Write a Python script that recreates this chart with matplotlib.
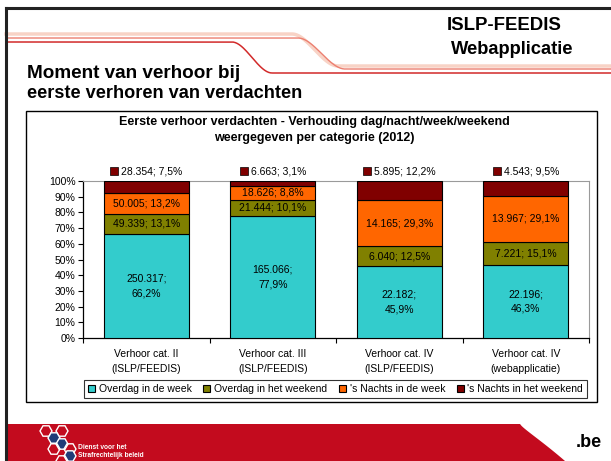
import numpy as np
import matplotlib
matplotlib.use('Agg')
import matplotlib.pyplot as plt
from matplotlib.patches import Rectangle, Polygon, RegularPolygon
from matplotlib.offsetbox import DrawingArea, TextArea, HPacker, AnnotationBbox

plt.rcParams['font.family'] = ['Liberation Sans', 'DejaVu Sans']

# Gegevens (2012)
categorieen = ['Verhoor cat. II\n(ISLP/FEEDIS)', 'Verhoor cat. III\n(ISLP/FEEDIS)',
               'Verhoor cat. IV\n(ISLP/FEEDIS)', 'Verhoor cat. IV\n(webapplicatie)']
overdag_week = [250317, 165066, 22182, 22196]
overdag_weekend = [49339, 21444, 6040, 7221]
nachts_week = [50005, 18626, 14165, 13967]
nachts_weekend = [28354, 6663, 5895, 4543]
reeksen = ['Overdag in de week', 'Overdag in het weekend', "'s Nachts in de week", "'s Nachts in het weekend"]
kleuren = ['#33CCCC', '#808000', '#FF6600', '#800000']
y_ticks = [0, 10, 20, 30, 40, 50, 60, 70, 80, 90, 100]

W, H = 611, 461
FS = 7.5


def getal(v):
    return f'{v:,}'.replace(',', '.')


def procent(p):
    return f'{p * 100:.1f}'.replace('.', ',') + '%'


fig = plt.figure(figsize=(W / 100, H / 100), dpi=100)
fig.patch.set_facecolor('white')

# achtergrond van de slide in pixelcoordinaten
bg = fig.add_axes([0, 0, 1, 1], zorder=0)
bg.set_xlim(0, W)
bg.set_ylim(H, 0)
bg.axis('off')

# decoratieve lijnen bovenaan
def stap(x, y0, y1, xa, xb):
    t = np.clip((x - xa) / (xb - xa), 0, 1)
    s = t * t * (3 - 2 * t)
    return y0 + (y1 - y0) * s

xs = np.linspace(6, W, 600)
bg.plot(xs, stap(xs, 34, 66, 292, 338), color='#F8D3C6', lw=2.5, zorder=1)
bg.plot(xs, stap(xs, 38, 69, 298, 345), color='#EC7F70', lw=1.0, zorder=1)
bg.plot(xs, stap(xs, 42, 73, 232, 272), color='#D22A2A', lw=1.1, zorder=1)

# rode voetband
px = np.linspace(0, 1, 30)
rand_x = 520 + 45 * px
rand_y = 424 + 37 * (px ** 0.8) * (1 - 0.25 * (1 - px))
voet = [(6, 424)] + list(zip(rand_x, rand_y)) + [(565, H), (6, H)]
bg.add_patch(Polygon(voet, closed=True, facecolor='#C30B1E', edgecolor='none', zorder=1))

# logo
for (cx, cy, vol) in [(46, 431, False), (62, 431, False), (54, 438, True), (62, 444, True),
                      (54, 449, False), (70, 449, False), (70, 456, True), (62, 461, False)]:
    bg.add_patch(RegularPolygon((cx, cy), 6, radius=6, orientation=np.pi / 6,
                                facecolor='#1F3C78' if vol else 'none',
                                edgecolor='white', lw=1.0, zorder=2))
bg.text(78, 447, 'Dienst voor het', color='white', fontsize=4.8, fontweight='bold', va='center')
bg.text(78, 455, 'Strafrechtelijk beleid', color='white', fontsize=4.8, fontweight='bold', va='center')
bg.text(589, 442, '.be', color='black', fontsize=13, fontweight='bold', ha='center', va='center')

# slide rand
bg.plot([6, 6], [8, H], color='#222222', lw=2.2, zorder=3)
bg.plot([6, W], [8, 8], color='#222222', lw=2.2, zorder=3)

# koppen
bg.text(447, 26, 'ISLP-FEEDIS', fontsize=13.4, fontweight='bold', va='center', ha='left')
bg.text(451, 49, 'Webapplicatie', fontsize=13.2, fontweight='bold', va='center', ha='left')
bg.text(27, 74, 'Moment van verhoor bij', fontsize=13.6, fontweight='bold', va='center')
bg.text(27, 93, 'eerste verhoren van verdachten', fontsize=13.1, fontweight='bold', va='center')

# kader van de grafiek
bg.add_patch(Rectangle((26, 111), 571, 291, facecolor='white', edgecolor='black', lw=1.0, zorder=2))
bg.text(314, 122, 'Eerste verhoor verdachten - Verhouding dag/nacht/week/weekend',
        fontsize=9, fontweight='bold', ha='center', va='center', zorder=3)
bg.text(314, 138, 'weergegeven per categorie (2012)',
        fontsize=9, fontweight='bold', ha='center', va='center', zorder=3)

# grafiek
ax = fig.add_axes([83 / W, (H - 338) / H, (589 - 83) / W, (338 - 181) / H], zorder=5)
ax.patch.set_alpha(0)

data = np.array([overdag_week, overdag_weekend, nachts_week, nachts_weekend], dtype=float)
totalen = data.sum(axis=0)
aandelen = data / totalen
x = np.arange(len(categorieen))
breedte = 0.672
onder = np.zeros(len(categorieen))
for i in range(4):
    ax.bar(x, aandelen[i], breedte, bottom=onder, color=kleuren[i], edgecolor='black',
           linewidth=0.8, label=reeksen[i], zorder=3)
    for j in range(len(x)):
        midden = onder[j] + aandelen[i][j] / 2
        if i == 0:
            ax.text(x[j], midden, f'{getal(int(data[i][j]))};\n{procent(aandelen[i][j])}',
                    ha='center', va='center', fontsize=FS, linespacing=1.55, zorder=4)
        elif i < 3:
            ax.text(x[j], midden, f'{getal(int(data[i][j]))}; {procent(aandelen[i][j])}',
                    ha='center', va='center', fontsize=FS, zorder=4)
        else:
            # labels voor 's nachts in het weekend boven de staaf
            da = DrawingArea(6, 6, 0, 0)
            da.add_artist(Rectangle((0, 0), 6, 6, facecolor=kleuren[3], edgecolor='black', lw=0.5))
            ta = TextArea(f'{getal(int(data[i][j]))}; {procent(aandelen[i][j])}',
                          textprops=dict(fontsize=FS))
            pak = HPacker(children=[da, ta], align='center', pad=0, sep=2)
            ab = AnnotationBbox(pak, (x[j], 1.0), xybox=(0, 7.2), xycoords='data',
                                boxcoords='offset points', frameon=False,
                                box_alignment=(0.5, 0.5), annotation_clip=False)
            ax.add_artist(ab)
    onder += aandelen[i]

ax.set_xlim(-0.5, 3.5)
ax.set_ylim(0, 1)
ax.set_yticks([t / 100 for t in y_ticks])
ax.set_yticklabels([f'{t}%' for t in y_ticks], fontsize=FS)
ax.set_xticks(x)
ax.set_xticklabels(categorieen, fontsize=FS, linespacing=1.6)
ax.set_xticks(np.arange(-0.5, 4, 1), minor=True)
ax.tick_params(axis='x', which='major', length=0, pad=8)
ax.tick_params(axis='x', which='minor', length=3.5, width=0.8, direction='out')
ax.tick_params(axis='y', length=3.5, width=0.8, direction='out', pad=2)
for kant in ['top', 'right']:
    ax.spines[kant].set_color('#9A9A9A')
    ax.spines[kant].set_linewidth(0.8)
for kant in ['left', 'bottom']:
    ax.spines[kant].set_color('black')
    ax.spines[kant].set_linewidth(0.9)

leg = fig.legend(loc='center', bbox_to_anchor=(335.5 / W, (H - 389) / H), ncol=4,
                 fontsize=FS, frameon=True, fancybox=False, edgecolor='black',
                 handlelength=0.7, handleheight=0.7, handletextpad=0.35,
                 columnspacing=1.1, borderpad=0.4)
leg.get_frame().set_linewidth(0.8)
leg.set_zorder(6)

fig.savefig('out.png', dpi=100)
